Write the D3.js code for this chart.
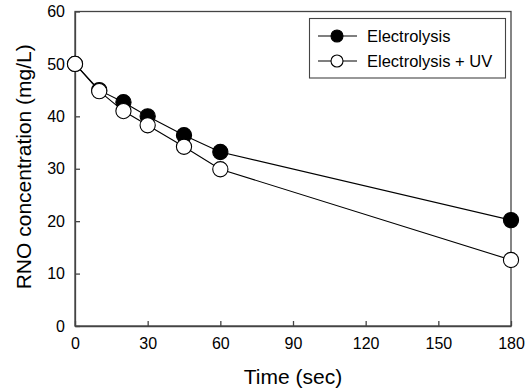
<!DOCTYPE html>
<html><head><meta charset="utf-8">
<script src="https://cdn.jsdelivr.net/npm/d3@7"></script>
<style>body{margin:0;background:#fff}svg{display:block}text{font-family:"Liberation Sans",Arial,sans-serif;fill:#000}</style>
</head><body><svg id="c" width="529" height="392"></svg>
<script>
const times = [0, 10, 20, 30, 45, 60, 180];
const electrolysis = [50, 45, 42.7, 40.0, 36.4, 33.2, 20.2];
const electrolysisUV = [50, 44.8, 41.0, 38.3, 34.2, 29.9, 12.6];
const seriesNames = ["Electrolysis", "Electrolysis + UV"];
const xTicks = [0, 30, 60, 90, 120, 150, 180];
const yTicks = [0, 10, 20, 30, 40, 50, 60];

const svg = d3.select("#c");
const L = 75, R = 511, T = 11.5, B = 326;
const x = d3.scaleLinear().domain([0, 180]).range([L, R]);
const y = d3.scaleLinear().domain([0, 60]).range([B, T]);
const axisColor = "#444";

// frame
svg.append("rect").attr("x", L).attr("y", T).attr("width", R - L).attr("height", B - T)
  .attr("fill", "none").attr("stroke", axisColor).attr("stroke-width", 1.3);

const xa = svg.append("g").attr("transform", `translate(0,${B})`)
  .call(d3.axisBottom(x).tickValues(xTicks).tickSizeInner(-5).tickSizeOuter(0).tickPadding(12));
const ya = svg.append("g").attr("transform", `translate(${L},0)`)
  .call(d3.axisLeft(y).tickValues(yTicks).tickSizeInner(-5).tickSizeOuter(0).tickPadding(10));
[xa, ya].forEach(a => {
  a.select(".domain").attr("stroke", axisColor).attr("stroke-width", 1.3);
  a.selectAll(".tick line").attr("stroke", axisColor).attr("stroke-width", 1.3);
  a.selectAll("text").attr("font-size", 16).attr("font-family", "Liberation Sans, Arial, sans-serif").attr("fill", "#000");
});

svg.append("text").attr("x", (L + R) / 2).attr("y", 384).attr("text-anchor", "middle")
  .attr("font-size", 21).text("Time (sec)");
svg.append("text").attr("transform", `translate(31,${(T + B) / 2 - 2}) rotate(-90)`)
  .attr("text-anchor", "middle").attr("font-size", 21).text("RNO concentration (mg/L)");

const data = [electrolysis, electrolysisUV];
const fills = ["#000", "#fff"];
const line = d3.line().x((d, i) => x(times[i])).y(d => y(d));
data.forEach((vals, k) => {
  svg.append("path").datum(vals).attr("d", line).attr("fill", "none")
    .attr("stroke", "#000").attr("stroke-width", 1.1);
});
data.forEach((vals, k) => {
  svg.append("g").selectAll("circle").data(vals).join("circle")
    .attr("cx", (d, i) => x(times[i])).attr("cy", d => y(d)).attr("r", 7.6)
    .attr("fill", fills[k]).attr("stroke", "#000").attr("stroke-width", 1.1);
});

// legend
const lg = svg.append("g");
lg.append("rect").attr("x", 309.5).attr("y", 18.5).attr("width", 196).attr("height", 59.5)
  .attr("fill", "#fff").attr("stroke", "#444").attr("stroke-width", 1.1);
seriesNames.forEach((n, k) => {
  const yy = 36 + k * 25;
  lg.append("line").attr("x1", 318).attr("x2", 357).attr("y1", yy).attr("y2", yy)
    .attr("stroke", "#000").attr("stroke-width", 1.1);
  lg.append("circle").attr("cx", 337).attr("cy", yy).attr("r", 6)
    .attr("fill", fills[k]).attr("stroke", "#000").attr("stroke-width", 1.1);
  lg.append("text").attr("x", 367).attr("y", yy + 6).attr("font-size", 16.5).text(n);
});
</script></body></html>
